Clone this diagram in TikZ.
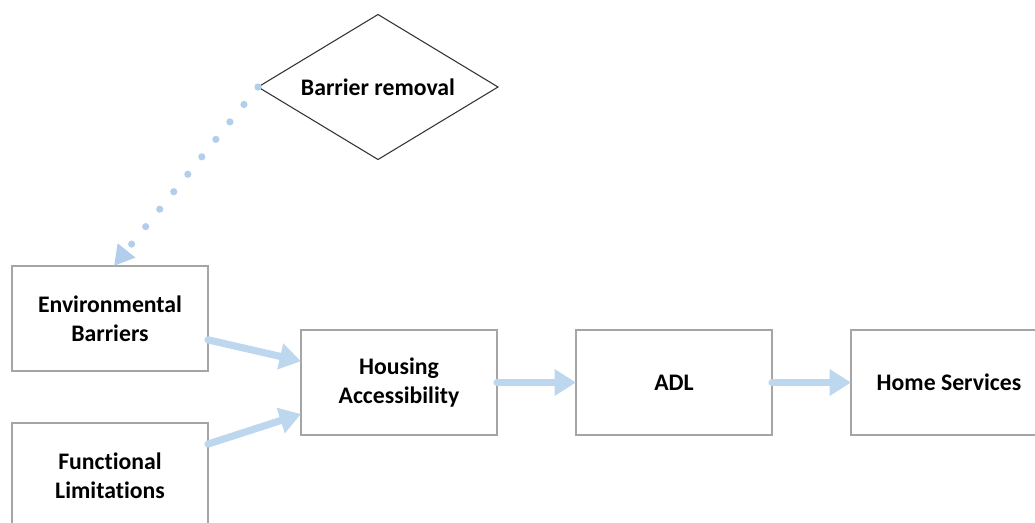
\documentclass[tikz,border=0pt]{standalone}
\usepackage{fontspec}
\setmainfont{Carlito}[Ligatures=NoCommon]
\usetikzlibrary{shapes.geometric,arrows.meta}
\definecolor{boxgray}{RGB}{165,165,165}
\definecolor{arrowblue}{RGB}{189,215,238}
\definecolor{dotblue}{RGB}{178,206,236}

\begin{document}
\begin{tikzpicture}[x=0.75pt,y=-0.75pt,
  every node/.style={font=\fontsize{17.8}{21.75}\selectfont\bfseries, outer sep=0pt},
  box/.style={draw=boxgray, line width=0.9pt, minimum width=147pt, minimum height=78.75pt, align=center, inner sep=0pt},
  decision/.style={diamond, draw=black!80, line width=0.8pt, minimum width=180pt, minimum height=108.75pt, aspect=1.655, inner sep=0pt},
  flow/.style={draw=arrowblue, line width=5.4pt, line cap=round, -{Triangle[length=16pt,width=19pt]}},
  link/.style={draw=dotblue, line width=5.4pt, line cap=round, dash pattern=on 0pt off 16.8pt, -{Triangle[length=15pt,width=16pt]}}]
\useasboundingbox (0,0) rectangle (1035,522);
\clip (0,0) rectangle (1035,522);

\node[decision] (removal) at (378,87) {Barrier removal};
\node[box] (barriers) at (110,318.5) {Environmental\\Barriers};
\node[box] (limits) at (110,475.5) {Functional\\Limitations};
\node[box] (housing) at (399,382.5) {Housing\\Accessibility};
\node[box] (adl) at (674,382.5) {ADL};
\node[box] (home) at (949,382.5) {Home Services};

\draw[link] (removal.west) -- ([xshift=3pt]barriers.north);
\draw[flow] ([yshift=-16pt]barriers.east) -- ([yshift=16pt]housing.west);
\draw[flow] ([yshift=23.6pt]limits.east) -- ([yshift=-23.6pt]housing.west);
\draw[flow] (housing) -- (adl);
\draw[flow] (adl) -- (home);
\end{tikzpicture}
\end{document}
